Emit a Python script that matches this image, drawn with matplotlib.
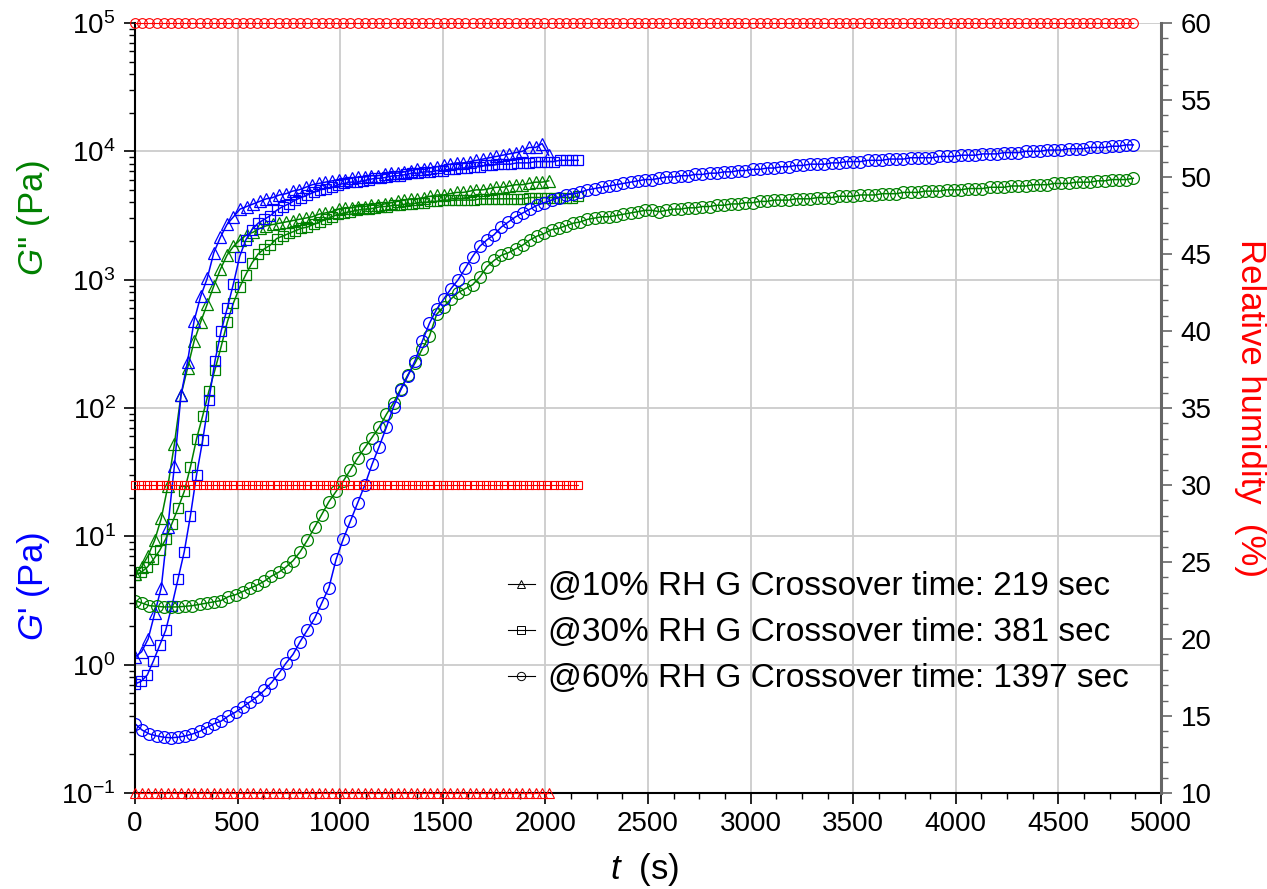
import matplotlib.pyplot as plt
import numpy as np
from matplotlib.lines import Line2D
from matplotlib.ticker import LogLocator, MultipleLocator, NullFormatter

plt.switch_backend("Agg")

plt.rcParams["font.family"] = ["Liberation Sans", "DejaVu Sans"]
plt.rcParams["mathtext.fontset"] = "custom"
plt.rcParams["mathtext.rm"] = "Liberation Sans"
plt.rcParams["mathtext.it"] = "Liberation Sans:italic"
plt.rcParams["mathtext.default"] = "regular"
plt.rcParams["axes.unicode_minus"] = False

BLUE = "#0000ff"
GREEN = "#008000"
RED = "#ff0000"

# sampling interval of each run (s)
STEP_10, STEP_30, STEP_60 = 32, 30, 35

# log10 of G' and G'' (Pa)
gp_10 = [
    0.06, 0.10, 0.20, 0.40, 0.60, 1.07, 1.55, 2.10, 2.36, 2.68,
    2.87, 3.01, 3.21, 3.33, 3.43, 3.49, 3.55, 3.57, 3.59, 3.61,
    3.63, 3.64, 3.66, 3.67, 3.69, 3.70, 3.72, 3.74, 3.75, 3.76,
    3.77, 3.78, 3.78, 3.79, 3.80, 3.80, 3.81, 3.81, 3.82, 3.83,
    3.83, 3.84, 3.85, 3.86, 3.86, 3.87, 3.88, 3.89, 3.90, 3.91,
    3.91, 3.92, 3.93, 3.94, 3.95, 3.96, 3.97, 3.98, 3.99, 4.00,
    4.03, 4.03, 4.06, 3.97,
]
gpp_10 = [
    0.71, 0.76, 0.85, 0.97, 1.14, 1.39, 1.72, 2.10, 2.31, 2.52,
    2.67, 2.81, 2.95, 3.08, 3.19, 3.26, 3.31, 3.35, 3.37, 3.40,
    3.42, 3.43, 3.44, 3.45, 3.46, 3.47, 3.48, 3.49, 3.51, 3.52,
    3.53, 3.55, 3.56, 3.56, 3.57, 3.57, 3.58, 3.58, 3.59, 3.60,
    3.61, 3.62, 3.63, 3.63, 3.64, 3.65, 3.66, 3.66, 3.67, 3.68,
    3.68, 3.69, 3.70, 3.70, 3.71, 3.72, 3.72, 3.73, 3.74, 3.74,
    3.75, 3.76, 3.76, 3.77,
]
gp_30 = [
    -0.15, -0.13, -0.08, 0.03, 0.15, 0.27, 0.46, 0.67, 0.88, 1.16,
    1.48, 1.75, 2.06, 2.37, 2.60, 2.78, 2.97, 3.18, 3.31, 3.39,
    3.44, 3.47, 3.50, 3.54, 3.57, 3.59, 3.62, 3.64, 3.66, 3.68,
    3.70, 3.71, 3.72, 3.74, 3.75, 3.76, 3.76, 3.77, 3.78, 3.79,
    3.79, 3.80, 3.81, 3.81, 3.82, 3.83, 3.83, 3.84, 3.84, 3.85,
    3.85, 3.86, 3.86, 3.87, 3.87, 3.88, 3.88, 3.89, 3.89, 3.90,
    3.90, 3.90, 3.91, 3.91, 3.91, 3.92, 3.92, 3.92, 3.92, 3.93,
    3.93, 3.93, 3.93,
]
gpp_30 = [
    0.70, 0.72, 0.76, 0.82, 0.89, 0.98, 1.10, 1.22, 1.35, 1.54,
    1.76, 1.94, 2.13, 2.30, 2.48, 2.67, 2.82, 2.94, 3.04, 3.13,
    3.20, 3.24, 3.27, 3.32, 3.34, 3.36, 3.38, 3.40, 3.41, 3.43,
    3.45, 3.47, 3.49, 3.51, 3.52, 3.53, 3.54, 3.55, 3.55, 3.56,
    3.57, 3.57, 3.58, 3.58, 3.59, 3.59, 3.60, 3.60, 3.61, 3.61,
    3.62, 3.62, 3.62, 3.62, 3.62, 3.62, 3.63, 3.63, 3.63, 3.63,
    3.63, 3.63, 3.63, 3.63, 3.64, 3.64, 3.64, 3.64, 3.64, 3.64,
    3.64, 3.64, 3.65,
]
gp_60 = [
    -0.46, -0.51, -0.54, -0.555, -0.565, -0.57, -0.565, -0.555, -0.54, -0.52,
    -0.49, -0.46, -0.44, -0.40, -0.37, -0.33, -0.29, -0.25, -0.20, -0.14,
    -0.07, 0.01, 0.08, 0.18, 0.27, 0.36, 0.48, 0.60, 0.82, 0.98,
    1.12, 1.26, 1.40, 1.56, 1.70, 1.85, 2.01, 2.14, 2.25, 2.37,
    2.52, 2.66, 2.77, 2.85, 2.93, 3.00, 3.09, 3.18, 3.26, 3.31,
    3.35, 3.41, 3.45, 3.49, 3.52, 3.55, 3.58, 3.60, 3.62, 3.64,
    3.66, 3.67, 3.68, 3.70, 3.71, 3.72, 3.73, 3.74, 3.75, 3.76,
    3.77, 3.78, 3.78, 3.79, 3.80, 3.80, 3.81, 3.81, 3.82, 3.82,
    3.83, 3.83, 3.84, 3.84, 3.85, 3.85, 3.86, 3.86, 3.87, 3.87,
    3.88, 3.88, 3.89, 3.89, 3.90, 3.90, 3.90, 3.91, 3.91, 3.92,
    3.92, 3.92, 3.93, 3.93, 3.93, 3.94, 3.94, 3.94, 3.95, 3.95,
    3.95, 3.95, 3.96, 3.96, 3.96, 3.97, 3.97, 3.97, 3.98, 3.98,
    3.98, 3.99, 3.99, 3.99, 4.00, 4.00, 4.00, 4.01, 4.01, 4.01,
    4.02, 4.02, 4.02, 4.03, 4.03, 4.03, 4.04, 4.04, 4.05, 4.05,
]
gpp_60 = [
    0.50, 0.48, 0.46, 0.455, 0.45, 0.45, 0.45, 0.455, 0.46, 0.47,
    0.48, 0.49, 0.50, 0.53, 0.545, 0.57, 0.595, 0.62, 0.65, 0.69,
    0.72, 0.76, 0.81, 0.88, 0.97, 1.07, 1.17, 1.27, 1.35, 1.43,
    1.52, 1.61, 1.69, 1.77, 1.85, 1.95, 2.04, 2.15, 2.26, 2.35,
    2.46, 2.56, 2.73, 2.79, 2.85, 2.90, 2.93, 2.96, 3.02, 3.10,
    3.15, 3.19, 3.21, 3.24, 3.27, 3.31, 3.34, 3.36, 3.39, 3.40,
    3.42, 3.44, 3.45, 3.47, 3.48, 3.49, 3.49, 3.50, 3.51, 3.52,
    3.53, 3.54, 3.54, 3.53, 3.54, 3.55, 3.55, 3.56, 3.56, 3.57,
    3.57, 3.58, 3.58, 3.59, 3.59, 3.60, 3.60, 3.61, 3.61, 3.62,
    3.62, 3.62, 3.63, 3.63, 3.63, 3.64, 3.64, 3.64, 3.65, 3.65,
    3.65, 3.66, 3.66, 3.66, 3.67, 3.67, 3.67, 3.68, 3.68, 3.68,
    3.69, 3.69, 3.69, 3.70, 3.70, 3.70, 3.71, 3.71, 3.71, 3.72,
    3.72, 3.72, 3.73, 3.73, 3.73, 3.74, 3.74, 3.74, 3.75, 3.75,
    3.75, 3.76, 3.76, 3.76, 3.77, 3.77, 3.78, 3.78, 3.78, 3.79,
]

rh_levels = [10, 30, 60]
crossover_s = [219, 381, 1397]
run_markers = ["^", "s", "o"]
marker_size = {"^": 9, "s": 7.5, "o": 8.5}

t10 = np.arange(len(gp_10)) * STEP_10
t30 = np.arange(len(gp_30)) * STEP_30
t60 = np.arange(len(gp_60)) * STEP_60

runs = [
    (t10, gp_10, gpp_10),
    (t30, gp_30, gpp_30),
    (t60, gp_60, gpp_60),
]

fig = plt.figure(figsize=(12.67, 8.89), dpi=100)
ax = fig.add_axes([135 / 1267, 1 - 793 / 889, 1026 / 1267, 770 / 889])
ax2 = ax.twinx()

for (t, gp, gpp), m in zip(runs, run_markers):
    ms = marker_size[m]
    ax.plot(t, 10 ** np.array(gpp), color=GREEN, marker=m, mfc="none",
            ms=ms, mew=0.9, lw=1.1)
    ax.plot(t, 10 ** np.array(gp), color=BLUE, marker=m, mfc="none",
            ms=ms, mew=0.9, lw=1.1)

for (t, _, _), rh, m in zip(runs, rh_levels, run_markers):
    ax2.plot(t, np.full(len(t), rh), color=RED, marker=m, mfc="none",
             ms=marker_size[m] - 1.5, mew=0.8, lw=0.8, clip_on=False, zorder=5)

# main (log) axis
ax.set_yscale("log")
ax.set_ylim(1e-1, 1e5)
ax.set_xlim(0, 5000)
ax.xaxis.set_major_locator(MultipleLocator(500))
ax.xaxis.set_minor_locator(MultipleLocator(125))
ax.yaxis.set_major_locator(LogLocator(base=10, numticks=10))
ax.yaxis.set_minor_locator(LogLocator(base=10, subs=np.arange(2, 10), numticks=20))
ax.yaxis.set_minor_formatter(NullFormatter())
ax.grid(True, which="major", color="#cccccc", lw=1.3)
ax.set_axisbelow(True)
ax.tick_params(which="major", direction="out", length=8, width=1.2, labelsize=20, pad=5)
ax.tick_params(which="minor", direction="out", length=4, width=1.0)
ax.tick_params(axis="y", which="major", pad=6)
for side in ["top", "right"]:
    ax.spines[side].set_visible(False)
ax.spines["left"].set_linewidth(1.5)
ax.spines["bottom"].set_linewidth(1.5)

# humidity axis
ax2.set_ylim(10, 60)
ax2.yaxis.set_major_locator(MultipleLocator(5))
ax2.yaxis.set_minor_locator(MultipleLocator(1))
for side in ["top", "left", "bottom"]:
    ax2.spines[side].set_visible(False)
ax2.spines["right"].set_color("#666666")
ax2.spines["right"].set_linewidth(2.2)
ax2.tick_params(which="major", direction="out", length=8, width=1.2,
                color="#666666", labelsize=20, labelcolor="black", pad=6)
ax2.tick_params(which="minor", direction="out", length=5, width=1.0, color="#666666")

# axis titles
fig.text(33 / 1267, 1 - 218 / 889, r"$\mathit{G}$'' (Pa)", color=GREEN, rotation=90,
         fontsize=25, ha="center", va="center")
fig.text(33 / 1267, 1 - 587 / 889, r"$\mathit{G}$' (Pa)", color=BLUE, rotation=90,
         fontsize=25, ha="center", va="center")
fig.text(1250 / 1267, 1 - 408 / 889, "Relative humidity  (%)", color=RED,
         rotation=270, fontsize=25, ha="center", va="center")
fig.text(645 / 1267, 1 - 870 / 889, r"$\mathit{t}$  (s)", fontsize=25,
         ha="center", va="center")

# legend
handles = [Line2D([], [], color="black", marker=m, mfc="none", ms=6, mew=0.7, lw=0.8)
           for m in run_markers]
labels = [f"@{rh}% RH G Crossover time: {c} sec" for rh, c in zip(rh_levels, crossover_s)]
ax2.legend(handles, labels, loc="center left", bbox_to_anchor=(508 / 1267, 1 - 633 / 889),
           bbox_transform=fig.transFigure, frameon=False, fontsize=24,
           handlelength=0.8, handletextpad=0.4, labelspacing=0.45,
           borderpad=0, borderaxespad=0)

fig.savefig("out.png", dpi=100)
plt.close(fig)
